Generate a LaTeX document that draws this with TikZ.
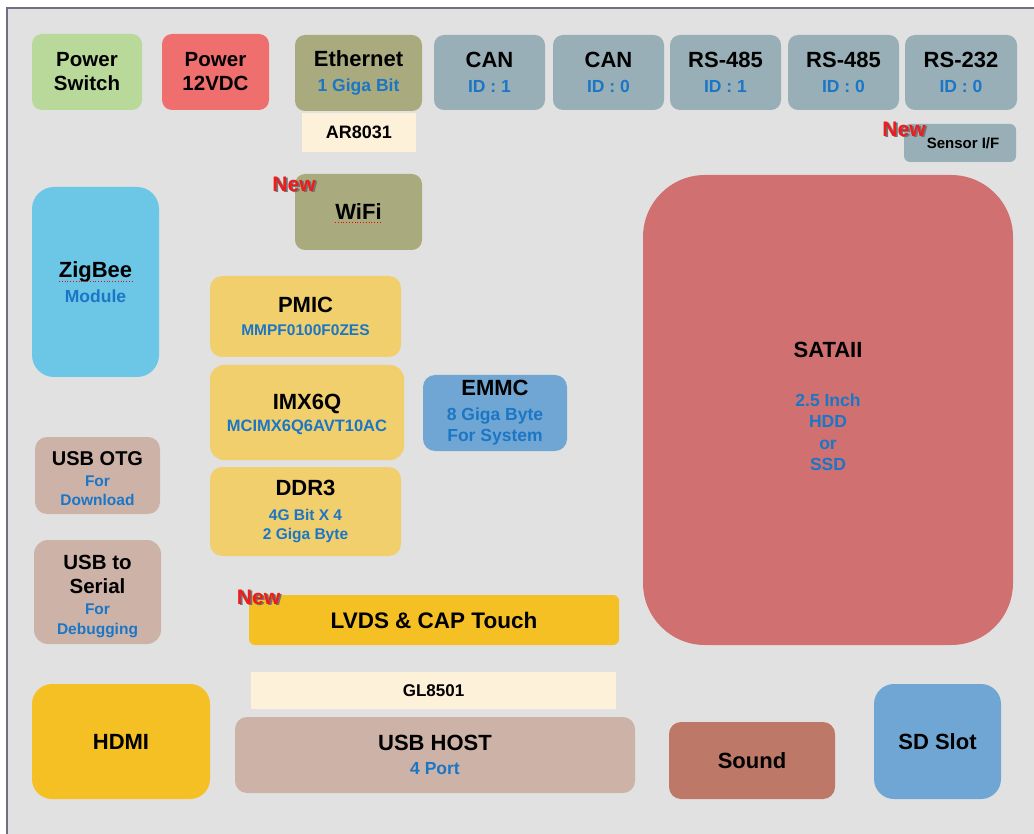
\documentclass[tikz,border=0pt]{standalone}
\usepackage{fontspec}
\setmainfont{Liberation Sans}
\definecolor{pagebg}{HTML}{E1E1E1}
\definecolor{framec}{HTML}{6E6E84}
\definecolor{subblue}{HTML}{1B76C6}
\definecolor{cgreen}{HTML}{B9D99A}
\definecolor{cred}{HTML}{EE6F6D}
\definecolor{colive}{HTML}{A9AB7E}
\definecolor{cslate}{HTML}{98AFB7}
\definecolor{ccream}{HTML}{FEF1D9}
\definecolor{csata}{HTML}{D07070}
\definecolor{csky}{HTML}{6CC6E6}
\definecolor{cchip}{HTML}{F1CF6D}
\definecolor{cemmc}{HTML}{70A6D3}
\definecolor{cusb}{HTML}{CDB2A8}
\definecolor{camber}{HTML}{F5C024}
\definecolor{csound}{HTML}{BD7868}
\definecolor{newred}{HTML}{EE1C1C}
\newcommand\bxmain{\bfseries\fontsize{22}{24.5}\selectfont}
\newcommand\bxsub{\bfseries\color{subblue}\fontsize{17.5}{21}\selectfont}
\newcommand\bxsmall{\bfseries\color{subblue}\fontsize{15.5}{19}\selectfont}
\begin{document}
\begin{tikzpicture}[x=1pt,y=-1pt,
  blk/.style={rectangle, inner sep=0pt, align=center, font=\bxmain, text=black, rounded corners=10pt},
  txt/.style={inner sep=0pt, align=center, font=\bxmain, text=black},
  chipbox/.style={rectangle, inner sep=0pt, align=center, text=black, fill=ccream},
  newtag/.style={inner sep=0pt, font=\bfseries\fontsize{21}{24}\selectfont},
  spell/.style={draw=red, line width=0.8pt, dotted}]
% page and frame
\useasboundingbox (0,0) rectangle (1034,834);
\fill[white] (0,0) rectangle (1034,834);
\fill[pagebg] (7,8) rectangle (1034,834);
\draw[framec, line width=1.6pt] (7,834) -- (7,8) -- (1034,8);

% top row connectors
\node[blk, fill=cgreen, minimum width=110pt, minimum height=76pt, font=\bfseries\fontsize{20.5}{24}\selectfont] (psw) at (87,72) {Power\\Switch};
\node[blk, fill=cred, minimum width=107pt, minimum height=76pt, font=\bfseries\fontsize{20.5}{24}\selectfont] (pwr) at (215.5,72) {Power\\12VDC};
\node[blk, fill=colive, minimum width=127pt, minimum height=76pt] (eth) at (358.5,73) {Ethernet\\{\bxsub 1 Giga Bit}};
\node[chipbox, minimum width=114pt, minimum height=39pt, font=\bfseries\fontsize{18}{20}\selectfont] (ar) at (359,132.5) {AR8031};
\node[blk, fill=cslate, minimum width=111pt, minimum height=75pt] (can1) at (489.5,72.5) {CAN\\{\bxsub ID : 1}};
\node[blk, fill=cslate, minimum width=111pt, minimum height=75pt] (can0) at (608.5,72.5) {CAN\\{\bxsub ID : 0}};
\node[blk, fill=cslate, minimum width=111pt, minimum height=75pt] (rsa) at (725.5,72.5) {RS-485\\{\bxsub ID : 1}};
\node[blk, fill=cslate, minimum width=111pt, minimum height=75pt] (rsb) at (843.5,72.5) {RS-485\\{\bxsub ID : 0}};
\node[blk, fill=cslate, minimum width=112pt, minimum height=75pt] (rsc) at (961,72.5) {RS-232\\{\bxsub ID : 0}};
\node[blk, fill=cslate, minimum width=112pt, minimum height=38pt, rounded corners=6pt, font=\bfseries\fontsize{15}{18}\selectfont] (sensor) at (960,143) {\hspace*{6pt}Sensor I/F};

% storage
\node[blk, fill=csata, minimum width=370pt, minimum height=470pt, rounded corners=62pt] (sata) at (828,410) {};
\node[txt] (satatxt) at ([yshift=3.5pt]sata.center) {SATAII\\[24pt]{\bxsub 2.5 Inch}\\[-3pt]{\bxsub HDD}\\[-3pt]{\bxsub or}\\[-3pt]{\bxsub SSD}};

% wireless
\node[blk, fill=colive, minimum width=127pt, minimum height=76pt] (wifi) at (358.5,212) {WiFi};
\node[blk, fill=csky, minimum width=127pt, minimum height=190pt, rounded corners=22pt] (zig) at (95.5,282) {ZigBee\\{\bxsub Module}};

% processor core
\node[blk, fill=cchip, minimum width=191pt, minimum height=81pt, rounded corners=12pt] (pmic) at (305.5,316.5) {PMIC\\[-2pt]{\bxsmall MMPF0100F0ZES}};
\node[blk, fill=cchip, minimum width=194pt, minimum height=95pt, rounded corners=14pt] (imx) at (307,412.5) {};
\node[txt] (imxtxt) at ([yshift=-2pt]imx.center) {IMX6Q\\[-3pt]{\bxsmall\fontsize{16.5}{19}\selectfont MCIMX6Q6AVT10AC}};
\node[blk, fill=cchip, minimum width=191pt, minimum height=89pt, rounded corners=12pt] (ddr) at (305.5,511.5) {DDR3\\{\bxsmall 4G Bit X 4}\\[-5pt]{\bxsmall 2 Giga Byte}};
\node[blk, fill=cemmc, minimum width=144pt, minimum height=76pt, rounded corners=12pt] (emmc) at (495,413) {EMMC\\{\bxsub 8 Giga Byte}\\[-3pt]{\bxsub For System}};

% usb device side
\node[blk, fill=cusb, minimum width=125pt, minimum height=77pt, rounded corners=12pt] (otg) at (97.5,475.5) {};
\node[txt, font=\bfseries\fontsize{20}{23}\selectfont] (otgtxt) at ([yshift=-3pt]otg.center) {USB OTG\\[-2pt]{\bxsmall For}\\[-4pt]{\bxsmall Download}};
\node[blk, fill=cusb, minimum width=127pt, minimum height=104pt, rounded corners=14pt] (ser) at (97.5,592) {};
\node[txt, font=\bfseries\fontsize{20.5}{24}\selectfont] (sertxt) at ([yshift=-4pt]ser.center) {USB to\\Serial\\[-3pt]{\bxsmall For}\\[-4pt]{\bxsmall Debugging}};

% display
\node[blk, fill=camber, minimum width=370pt, minimum height=50pt, rounded corners=6pt, font=\bfseries\fontsize{22.5}{24}\selectfont] (lvds) at (434,620) {LVDS \& CAP Touch};

% bottom row
\node[chipbox, minimum width=365pt, minimum height=37pt, font=\bfseries\fontsize{17}{20}\selectfont] (gl) at (433.5,690.5) {GL8501};
\node[blk, fill=cusb, minimum width=400pt, minimum height=76pt, rounded corners=12pt] (host) at (435,755) {USB HOST\\{\bxsub 4 Port}};
\node[blk, fill=camber, minimum width=178pt, minimum height=115pt, rounded corners=20pt] (hdmi) at (121,741.5) {HDMI};
\node[blk, fill=csound, minimum width=166pt, minimum height=77pt, rounded corners=12pt] (sound) at (752,760.5) {Sound};
\node[blk, fill=cemmc, minimum width=127pt, minimum height=115pt, rounded corners=20pt] (sd) at (937.5,741.5) {SD Slot};

% spell-check marks under product names
\draw[spell] (335,222.5) -- (381,222.5);
\draw[spell] (59,281.5) -- (134,281.5);

% "New" tags
\foreach \nm/\px/\py in {nwifi/294/184, nlvds/258.5/597, nsens/904/129} {
  \node[newtag, text=black!55] at (\px+1.8,\py+1.8) {New};
  \node[newtag, text=newred] (\nm) at (\px,\py) {New};
}
\end{tikzpicture}
\end{document}
